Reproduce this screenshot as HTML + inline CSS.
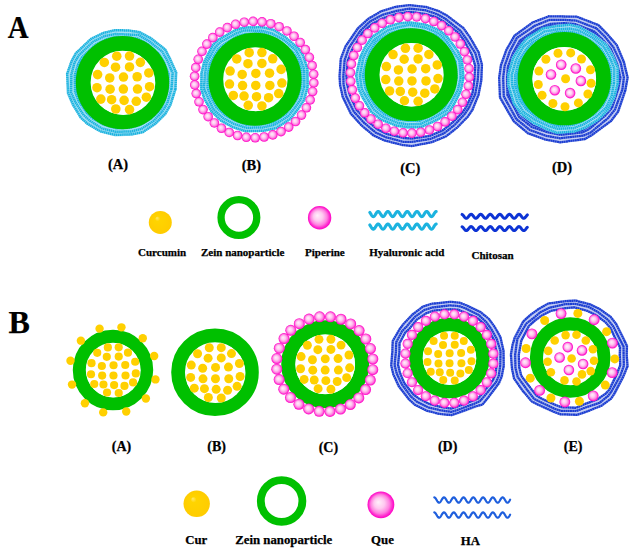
<!DOCTYPE html>
<html><head><meta charset="utf-8"><style>
html,body{margin:0;padding:0;background:#fff;width:639px;height:550px;overflow:hidden}
svg{display:block}
text{font-family:"Liberation Serif",serif;font-weight:bold;fill:#000;stroke:#000;stroke-width:0.25px}
</style></head><body>
<svg width="639" height="550" viewBox="0 0 639 550">
<defs>
<radialGradient id="pg" cx="0.5" cy="0.5" r="0.5" fx="0.4" fy="0.4">
<stop offset="0" stop-color="#fff0fa"/><stop offset="0.4" stop-color="#ffc8f0"/><stop offset="0.7" stop-color="#ff80e0"/><stop offset="0.87" stop-color="#ff30d0"/><stop offset="1" stop-color="#ff00c4"/>
</radialGradient>
<radialGradient id="pg2" cx="0.5" cy="0.5" r="0.5" fx="0.42" fy="0.42">
<stop offset="0" stop-color="#fff6fc"/><stop offset="0.4" stop-color="#ffd4f4"/><stop offset="0.68" stop-color="#ff90e4"/><stop offset="0.85" stop-color="#ff30d0"/><stop offset="1" stop-color="#ff00c4"/>
</radialGradient>
<radialGradient id="yg" cx="0.5" cy="0.5" r="0.5" fx="0.35" fy="0.3">
<stop offset="0" stop-color="#ffe870"/><stop offset="0.22" stop-color="#ffd400"/><stop offset="1" stop-color="#ffcc00"/>
</radialGradient>
</defs>
<path d="M171.1,88.61 L166.5,102.92 L161.99,111.41 L152.67,120.69 L141.15,127.88 L131.13,130.32 L115.78,130.99 L102.38,127.34 L90.07,120.41 L84.33,114.67 L76.64,102.77 L72.06,92.33 L71.71,74.56 L75.4,63.04 L79.63,55.76 L93.7,42.55 L105.22,37 L115.75,34.51 L128.43,34.89 L138.26,36.16 L148.92,41.77 L161.63,52.26 L166.36,60.68 L171.62,73.35Z" fill="none" stroke="#a4e0f4" stroke-opacity="1.0" stroke-width="11"/>
<path d="M175.41,89.15 L170.43,104.76 L165.17,113.77 L155.06,123.74 L142.91,132.12 L131.89,134.31 L115.31,134.85 L100.65,131.45 L87.41,123.69 L80.84,117.76 L72.99,104.45 L68.24,93.11 L67.14,73.81 L71.57,61.39 L75.83,53.28 L91.14,38.81 L103.75,32.83 L115.22,30.15 L129.03,30.52 L139.59,32.31 L151.03,38.51 L165.2,49.47 L169.85,58.93 L176.16,72.5Z" fill="none" stroke="#1cb3df" stroke-width="2.5" stroke-dasharray="1.5 0.45"/>
<path d="M171.5,88.66 L167.25,103.27 L162.29,111.63 L153.13,121.27 L141.53,128.79 L131.35,131.48 L115.69,131.76 L101.92,128.45 L89.85,120.68 L83.76,115.18 L75.92,103.1 L71.08,92.53 L71.38,74.5 L74.49,62.65 L78.86,55.26 L93.11,41.7 L104.86,35.98 L115.69,34.04 L128.48,34.57 L138.64,35.04 L149.23,41.29 L162.34,51.71 L167.1,60.31 L172.64,73.16Z" fill="none" stroke="#1cb3df" stroke-width="2.5" stroke-dasharray="1.5 0.45"/>
<path d="M168.07,88.22 L164.21,101.84 L160.08,110 L150.94,118.48 L139.95,124.99 L130.62,127.63 L116.12,128.17 L103.54,124.58 L92,118.04 L86.63,112.65 L78.98,101.68 L75.04,91.72 L74.81,75.06 L78.12,64.22 L81.92,57.25 L95.27,44.85 L106.06,39.37 L116.05,36.98 L128.08,37.51 L137.45,38.49 L147.51,43.94 L159.13,54.21 L163.88,61.94 L168.58,73.93Z" fill="none" stroke="#1cb3df" stroke-width="2.5" stroke-dasharray="1.5 0.45"/>
<path d="M166.36,88 L162.18,100.89 L158.15,108.57 L149.72,116.94 L139.32,123.47 L130.24,125.63 L116.35,126.25 L104.23,122.94 L93.08,116.71 L87.91,111.51 L80.97,100.76 L76.74,91.38 L76.42,75.33 L79.78,64.93 L83.63,58.37 L96.39,46.49 L106.81,41.5 L116.33,39.24 L127.79,39.62 L136.7,40.68 L146.32,45.78 L157.87,55.2 L162.1,62.83 L166.93,74.24Z" fill="none" stroke="#1cb3df" stroke-width="1.5"/>
<circle cx="122.5" cy="82.6" r="39.3" fill="none" stroke="#00c000" stroke-width="14.8"/>
<circle cx="123.4" cy="83" r="31.9" fill="#fff"/>
<circle cx="116.76" cy="56.2" r="4.78" fill="#ffd000"/>
<circle cx="129.52" cy="56.08" r="4.78" fill="#ffd000"/>
<circle cx="104.32" cy="62.49" r="4.78" fill="#ffd000"/>
<circle cx="115.52" cy="67.24" r="4.78" fill="#ffd000"/>
<circle cx="129.52" cy="66.95" r="4.78" fill="#ffd000"/>
<circle cx="140.37" cy="62.36" r="4.78" fill="#ffd000"/>
<circle cx="97.62" cy="74.61" r="4.78" fill="#ffd000"/>
<circle cx="109.75" cy="77.99" r="4.78" fill="#ffd000"/>
<circle cx="123.46" cy="77.07" r="4.78" fill="#ffd000"/>
<circle cx="137.18" cy="76.75" r="4.78" fill="#ffd000"/>
<circle cx="148.82" cy="72.95" r="4.78" fill="#ffd000"/>
<circle cx="97.02" cy="87.66" r="4.78" fill="#ffd000"/>
<circle cx="110.1" cy="89.22" r="4.78" fill="#ffd000"/>
<circle cx="123.37" cy="89.09" r="4.78" fill="#ffd000"/>
<circle cx="137.5" cy="89.09" r="4.78" fill="#ffd000"/>
<circle cx="149.56" cy="86.67" r="4.78" fill="#ffd000"/>
<circle cx="100.85" cy="99.11" r="4.78" fill="#ffd000"/>
<circle cx="111.63" cy="99.68" r="4.78" fill="#ffd000"/>
<circle cx="124.1" cy="100.39" r="4.78" fill="#ffd000"/>
<circle cx="136.26" cy="101.34" r="4.78" fill="#ffd000"/>
<circle cx="146.37" cy="97.16" r="4.78" fill="#ffd000"/>
<circle cx="115.81" cy="109" r="4.78" fill="#ffd000"/>
<circle cx="129.52" cy="109.6" r="4.78" fill="#ffd000"/>
<path d="M303.95,86.38 L299.81,98.58 L294.81,106.29 L287.78,116.02 L274.58,124.3 L262.47,126.67 L245.93,127.11 L234.47,123.34 L223.81,117.4 L214.59,108.89 L208.42,96.95 L205.09,88.31 L205.45,73.64 L207.76,63.16 L215.99,47.37 L221.42,42.78 L236.97,33.64 L244.45,31.31 L261.64,31.08 L271.8,33.83 L283.27,40.51 L295.1,50.99 L299.18,57 L303.58,69.45Z" fill="none" stroke="#a4e0f4" stroke-opacity="1.0" stroke-width="10.5"/>
<path d="M307.59,86.92 L303.9,100.36 L298.31,108.68 L290.31,118.84 L276.22,128 L263.18,130.82 L245.26,131.04 L232.82,127.11 L221.2,120.75 L211.44,111.3 L204.32,98.57 L201.32,89.02 L201.58,73.19 L204.27,61.94 L213.06,44.88 L218.61,39.6 L235.66,30.12 L243.72,27.68 L262.22,27.22 L273.33,29.82 L285.55,37.42 L298.44,48.64 L302.96,55.09 L307.27,68.7Z" fill="none" stroke="#1cb3df" stroke-width="2.5" stroke-dasharray="1.5 0.45"/>
<path d="M304.28,86.43 L300.82,99.02 L295.61,106.84 L288.05,116.32 L274.77,124.74 L262.62,127.51 L245.83,127.7 L234.21,123.95 L223.2,118.18 L213.64,109.61 L207.75,97.21 L203.94,88.53 L205.09,73.6 L206.66,62.78 L215.51,46.96 L220.69,41.96 L236.78,33.14 L244.28,30.46 L261.69,30.76 L271.95,33.45 L283.8,39.8 L295.97,50.38 L299.56,56.81 L304.19,69.32Z" fill="none" stroke="#1cb3df" stroke-width="2.5" stroke-dasharray="1.5 0.45"/>
<path d="M301.31,85.99 L297.69,97.66 L292.94,105.02 L285.88,113.89 L273.7,122.31 L262.09,124.41 L246.35,124.64 L235.57,120.83 L225.36,115.41 L216.42,107.49 L210.43,96.15 L207.54,87.85 L207.84,73.92 L209.75,63.87 L218.04,49.11 L223.21,44.81 L237.85,36.01 L245,34.06 L261.31,33.28 L270.91,36.19 L281.72,42.62 L293.05,52.43 L297.13,58.03 L301.37,69.89Z" fill="none" stroke="#1cb3df" stroke-width="2.5" stroke-dasharray="1.5 0.45"/>
<path d="M299.47,85.72 L295.66,96.78 L291.07,103.75 L284.77,112.64 L272.75,120.16 L261.71,122.21 L246.68,122.65 L236.29,119.2 L226.59,113.84 L218.18,106.14 L212.63,95.28 L209.54,87.47 L209.95,74.17 L212.02,64.67 L219.44,50.3 L224.41,46.17 L238.54,37.88 L245.33,35.75 L260.96,35.55 L270.2,38.06 L280.59,44.15 L291.4,53.59 L295.14,59.03 L299.14,70.34Z" fill="none" stroke="#1cb3df" stroke-width="1.5"/>
<circle cx="255" cy="79.2" r="39.15" fill="none" stroke="#00c000" stroke-width="14.7"/>
<circle cx="255.8" cy="79.4" r="31.8" fill="#fff"/>
<circle cx="249.19" cy="52.69" r="4.77" fill="#ffd000"/>
<circle cx="261.91" cy="52.56" r="4.77" fill="#ffd000"/>
<circle cx="236.78" cy="58.95" r="4.77" fill="#ffd000"/>
<circle cx="247.95" cy="63.69" r="4.77" fill="#ffd000"/>
<circle cx="261.91" cy="63.4" r="4.77" fill="#ffd000"/>
<circle cx="272.72" cy="58.83" r="4.77" fill="#ffd000"/>
<circle cx="230.11" cy="71.04" r="4.77" fill="#ffd000"/>
<circle cx="242.19" cy="74.41" r="4.77" fill="#ffd000"/>
<circle cx="255.86" cy="73.49" r="4.77" fill="#ffd000"/>
<circle cx="269.54" cy="73.17" r="4.77" fill="#ffd000"/>
<circle cx="281.14" cy="69.38" r="4.77" fill="#ffd000"/>
<circle cx="229.5" cy="84.04" r="4.77" fill="#ffd000"/>
<circle cx="242.54" cy="85.6" r="4.77" fill="#ffd000"/>
<circle cx="255.77" cy="85.47" r="4.77" fill="#ffd000"/>
<circle cx="269.86" cy="85.47" r="4.77" fill="#ffd000"/>
<circle cx="281.88" cy="83.06" r="4.77" fill="#ffd000"/>
<circle cx="233.32" cy="95.46" r="4.77" fill="#ffd000"/>
<circle cx="244.07" cy="96.03" r="4.77" fill="#ffd000"/>
<circle cx="256.5" cy="96.73" r="4.77" fill="#ffd000"/>
<circle cx="268.62" cy="97.69" r="4.77" fill="#ffd000"/>
<circle cx="278.7" cy="93.52" r="4.77" fill="#ffd000"/>
<circle cx="248.23" cy="105.32" r="4.77" fill="#ffd000"/>
<circle cx="261.91" cy="105.92" r="4.77" fill="#ffd000"/>
<circle cx="253.16" cy="21.41" r="4.8" fill="url(#pg)"/>
<circle cx="262.07" cy="21.91" r="4.8" fill="url(#pg)"/>
<circle cx="270.8" cy="23.69" r="4.8" fill="url(#pg)"/>
<circle cx="279.16" cy="26.73" r="4.8" fill="url(#pg)"/>
<circle cx="286.96" cy="30.95" r="4.8" fill="url(#pg)"/>
<circle cx="294.04" cy="36.25" r="4.8" fill="url(#pg)"/>
<circle cx="300.22" cy="42.52" r="4.8" fill="url(#pg)"/>
<circle cx="305.37" cy="49.62" r="4.8" fill="url(#pg)"/>
<circle cx="309.38" cy="57.39" r="4.8" fill="url(#pg)"/>
<circle cx="312.16" cy="65.66" r="4.8" fill="url(#pg)"/>
<circle cx="313.65" cy="74.24" r="4.8" fill="url(#pg)"/>
<circle cx="313.8" cy="82.94" r="4.8" fill="url(#pg)"/>
<circle cx="312.63" cy="91.56" r="4.8" fill="url(#pg)"/>
<circle cx="310.15" cy="99.91" r="4.8" fill="url(#pg)"/>
<circle cx="306.41" cy="107.82" r="4.8" fill="url(#pg)"/>
<circle cx="301.52" cy="115.09" r="4.8" fill="url(#pg)"/>
<circle cx="295.56" cy="121.57" r="4.8" fill="url(#pg)"/>
<circle cx="288.69" cy="127.11" r="4.8" fill="url(#pg)"/>
<circle cx="281.04" cy="131.59" r="4.8" fill="url(#pg)"/>
<circle cx="272.79" cy="134.91" r="4.8" fill="url(#pg)"/>
<circle cx="264.13" cy="136.99" r="4.8" fill="url(#pg)"/>
<circle cx="255.24" cy="137.79" r="4.8" fill="url(#pg)"/>
<circle cx="246.33" cy="137.29" r="4.8" fill="url(#pg)"/>
<circle cx="237.6" cy="135.51" r="4.8" fill="url(#pg)"/>
<circle cx="229.24" cy="132.47" r="4.8" fill="url(#pg)"/>
<circle cx="221.44" cy="128.25" r="4.8" fill="url(#pg)"/>
<circle cx="214.36" cy="122.95" r="4.8" fill="url(#pg)"/>
<circle cx="208.18" cy="116.68" r="4.8" fill="url(#pg)"/>
<circle cx="203.03" cy="109.58" r="4.8" fill="url(#pg)"/>
<circle cx="199.02" cy="101.81" r="4.8" fill="url(#pg)"/>
<circle cx="196.24" cy="93.54" r="4.8" fill="url(#pg)"/>
<circle cx="194.75" cy="84.96" r="4.8" fill="url(#pg)"/>
<circle cx="194.6" cy="76.26" r="4.8" fill="url(#pg)"/>
<circle cx="195.77" cy="67.64" r="4.8" fill="url(#pg)"/>
<circle cx="198.25" cy="59.29" r="4.8" fill="url(#pg)"/>
<circle cx="201.99" cy="51.38" r="4.8" fill="url(#pg)"/>
<circle cx="206.88" cy="44.11" r="4.8" fill="url(#pg)"/>
<circle cx="212.84" cy="37.63" r="4.8" fill="url(#pg)"/>
<circle cx="219.71" cy="32.09" r="4.8" fill="url(#pg)"/>
<circle cx="227.36" cy="27.61" r="4.8" fill="url(#pg)"/>
<circle cx="235.61" cy="24.29" r="4.8" fill="url(#pg)"/>
<circle cx="244.27" cy="22.21" r="4.8" fill="url(#pg)"/>
<path d="M478.09,80.31 L475.39,93.92 L469.28,108.11 L464.79,114.48 L454.7,124.7 L444.42,133.22 L430.6,139.04 L411.72,142.28 L403.19,141.44 L385.73,137.03 L375.5,132.47 L364.18,122.85 L353.58,111.81 L346.06,95.74 L343.75,84.21 L343.06,75.89 L344.37,59.67 L348.95,47.81 L360.13,30.47 L370.08,21.33 L382.46,14.6 L396.18,10.58 L409.39,8.51 L425.34,10.52 L437.37,14.37 L445.39,18.5 L460.74,30.55 L466.89,39.15 L475.01,53.43 L478.42,65.2Z" fill="none" stroke="#c4cdf2" stroke-opacity="1.0" stroke-width="9"/>
<path d="M481.22,80.57 L478.47,94.84 L472.42,109.91 L467.78,116.69 L457.2,127.57 L446.19,136.32 L431.58,142.23 L411.79,146.08 L402.79,145.12 L384.39,140.45 L373.66,135.54 L361.62,125.55 L350.86,113.61 L342.7,96.84 L340.01,84.74 L339.56,75.94 L340.76,58.82 L345.54,46.27 L357.87,28.43 L368.27,18.88 L380.98,11.33 L395.37,6.88 L409.34,5.07 L426.14,6.98 L438.79,11.09 L447.12,15.65 L463.45,28.11 L469.91,37.19 L478.59,52.21 L481.96,64.68Z" fill="none" stroke="#1c3ed2" stroke-width="2.3" stroke-dasharray="2 0.25"/>
<path d="M477.72,80.28 L475.31,93.9 L468.9,107.88 L464.5,114.26 L454.76,124.77 L444.35,133.08 L430.57,138.95 L411.72,141.92 L403.15,141.78 L385.68,137.17 L375.51,132.45 L364.16,122.87 L353.83,111.65 L345.98,95.76 L343.53,84.25 L343.34,75.89 L344.68,59.75 L348.94,47.81 L360.38,30.69 L370.13,21.4 L382.55,14.79 L396.27,10.98 L409.4,8.65 L425.41,10.25 L437.39,14.33 L445.26,18.72 L460.45,30.82 L466.59,39.34 L475.43,53.29 L478.65,65.17Z" fill="none" stroke="#1c3ed2" stroke-width="2.3" stroke-dasharray="2 0.25"/>
<path d="M474.33,80.01 L472.57,93.08 L466.54,106.53 L462.34,112.65 L452.7,122.4 L442.81,130.38 L429.66,135.97 L411.66,138.56 L403.56,138.01 L386.92,133.98 L377.34,129.37 L366.67,120.22 L356.52,109.87 L349.67,94.55 L347.06,83.75 L346.38,75.85 L347.82,60.49 L352.29,49.32 L362.44,32.55 L371.97,23.89 L383.92,17.8 L396.89,13.86 L409.45,11.82 L424.6,13.82 L436.21,17.05 L443.61,21.45 L458.37,32.7 L464.24,40.87 L471.76,54.54 L475.24,65.67Z" fill="none" stroke="#1c3ed2" stroke-width="2.3" stroke-dasharray="2 0.25"/>
<path d="M459.5,77.48 L456.87,89.47 L450.43,102.53 L445.89,109.52 L435.2,116.66 L420.25,123.14 L407.72,123.3 L397.3,121.93 L382.84,115.99 L374.47,108.9 L366.17,95.99 L362.51,88.58 L360.41,75.27 L363.95,58.39 L367.93,50.35 L374.56,40.14 L388.48,30.95 L399.69,27.6 L409.16,26.13 L424.6,28.56 L437.38,33.52 L444.61,39.67 L453.83,52.76 L458.21,60.86Z" fill="none" stroke="#a4e0f4" stroke-opacity="1.0" stroke-width="10.5"/>
<path d="M463.39,77.69 L460.71,90.71 L453.64,104.79 L448.94,112.55 L437.01,119.75 L421.04,127.04 L407.52,127.26 L396.34,125.51 L380.62,119.4 L371.4,111.88 L362.94,97.58 L359.02,89.61 L356.22,75.32 L360.51,57.15 L364.46,48.3 L371.72,37.32 L386.64,27.18 L398.77,23.4 L409.09,22.52 L425.79,24.68 L439.44,30.33 L447.11,37.08 L457.53,50.85 L461.71,59.83Z" fill="none" stroke="#1cb3df" stroke-width="2.5" stroke-dasharray="1.5 0.45"/>
<path d="M460.68,77.54 L457.9,89.8 L451.06,102.97 L446.66,110.28 L435.37,116.96 L420.42,123.98 L407.67,124.41 L397.11,122.64 L382.41,116.66 L373.9,109.44 L365.84,96.16 L361.73,88.81 L359.9,75.28 L363.27,58.15 L367.17,49.9 L374.09,39.67 L388.13,30.23 L399.52,26.83 L409.14,24.99 L424.93,27.47 L437.88,32.74 L445.1,39.16 L454.15,52.59 L459.35,60.53Z" fill="none" stroke="#1cb3df" stroke-width="2.5" stroke-dasharray="1.5 0.45"/>
<path d="M456.88,77.33 L454.71,88.78 L448.18,100.95 L444.31,107.96 L433.81,114.29 L419.77,120.81 L407.85,120.66 L397.94,119.56 L384.08,114.09 L376.18,107.23 L368.47,94.86 L365.32,87.75 L362.9,75.25 L366.73,59.4 L369.84,51.47 L376.04,41.6 L389.58,33.22 L400.22,30.04 L409.22,28.92 L423.91,30.82 L436.25,35.27 L443.05,41.29 L451.58,53.91 L455.68,61.61Z" fill="none" stroke="#1cb3df" stroke-width="2.5" stroke-dasharray="1.5 0.45"/>
<path d="M454.98,77.22 L452.56,88.09 L446.73,99.93 L442.68,106.33 L432.91,112.75 L419.34,118.71 L407.95,118.78 L398.47,117.56 L385.31,112.2 L377.71,105.74 L370.23,94 L366.85,87.3 L364.94,75.22 L368.21,59.93 L371.83,52.64 L377.78,43.32 L390.46,35.02 L400.65,32.01 L409.26,30.65 L423.27,32.88 L434.92,37.31 L441.47,42.93 L449.81,54.82 L453.87,62.14Z" fill="none" stroke="#1cb3df" stroke-width="1.5"/>
<circle cx="411.2" cy="74.7" r="39.05" fill="none" stroke="#00c000" stroke-width="14.7"/>
<circle cx="412" cy="74.9" r="31.7" fill="#fff"/>
<circle cx="405.41" cy="48.27" r="4.75" fill="#ffd000"/>
<circle cx="418.09" cy="48.15" r="4.75" fill="#ffd000"/>
<circle cx="393.04" cy="54.52" r="4.75" fill="#ffd000"/>
<circle cx="404.17" cy="59.24" r="4.75" fill="#ffd000"/>
<circle cx="418.09" cy="58.95" r="4.75" fill="#ffd000"/>
<circle cx="428.86" cy="54.39" r="4.75" fill="#ffd000"/>
<circle cx="386.39" cy="66.56" r="4.75" fill="#ffd000"/>
<circle cx="398.43" cy="69.92" r="4.75" fill="#ffd000"/>
<circle cx="412.06" cy="69" r="4.75" fill="#ffd000"/>
<circle cx="425.69" cy="68.69" r="4.75" fill="#ffd000"/>
<circle cx="437.26" cy="64.91" r="4.75" fill="#ffd000"/>
<circle cx="385.78" cy="79.53" r="4.75" fill="#ffd000"/>
<circle cx="398.78" cy="81.08" r="4.75" fill="#ffd000"/>
<circle cx="411.97" cy="80.95" r="4.75" fill="#ffd000"/>
<circle cx="426.01" cy="80.95" r="4.75" fill="#ffd000"/>
<circle cx="437.99" cy="78.55" r="4.75" fill="#ffd000"/>
<circle cx="389.59" cy="90.91" r="4.75" fill="#ffd000"/>
<circle cx="400.3" cy="91.48" r="4.75" fill="#ffd000"/>
<circle cx="412.7" cy="92.18" r="4.75" fill="#ffd000"/>
<circle cx="424.78" cy="93.13" r="4.75" fill="#ffd000"/>
<circle cx="434.82" cy="88.97" r="4.75" fill="#ffd000"/>
<circle cx="404.46" cy="100.74" r="4.75" fill="#ffd000"/>
<circle cx="418.09" cy="101.34" r="4.75" fill="#ffd000"/>
<circle cx="407.82" cy="16.64" r="4.8" fill="url(#pg)"/>
<circle cx="416.71" cy="16.98" r="4.8" fill="url(#pg)"/>
<circle cx="425.44" cy="18.62" r="4.8" fill="url(#pg)"/>
<circle cx="433.83" cy="21.52" r="4.8" fill="url(#pg)"/>
<circle cx="441.68" cy="25.61" r="4.8" fill="url(#pg)"/>
<circle cx="448.82" cy="30.81" r="4.8" fill="url(#pg)"/>
<circle cx="455.1" cy="36.98" r="4.8" fill="url(#pg)"/>
<circle cx="460.36" cy="44.01" r="4.8" fill="url(#pg)"/>
<circle cx="464.49" cy="51.72" r="4.8" fill="url(#pg)"/>
<circle cx="467.41" cy="59.95" r="4.8" fill="url(#pg)"/>
<circle cx="469.04" cy="68.52" r="4.8" fill="url(#pg)"/>
<circle cx="469.35" cy="77.23" r="4.8" fill="url(#pg)"/>
<circle cx="468.33" cy="85.88" r="4.8" fill="url(#pg)"/>
<circle cx="466.01" cy="94.29" r="4.8" fill="url(#pg)"/>
<circle cx="462.44" cy="102.27" r="4.8" fill="url(#pg)"/>
<circle cx="457.69" cy="109.64" r="4.8" fill="url(#pg)"/>
<circle cx="451.87" cy="116.23" r="4.8" fill="url(#pg)"/>
<circle cx="445.11" cy="121.89" r="4.8" fill="url(#pg)"/>
<circle cx="437.57" cy="126.51" r="4.8" fill="url(#pg)"/>
<circle cx="429.41" cy="129.98" r="4.8" fill="url(#pg)"/>
<circle cx="420.82" cy="132.21" r="4.8" fill="url(#pg)"/>
<circle cx="411.98" cy="133.16" r="4.8" fill="url(#pg)"/>
<circle cx="403.09" cy="132.82" r="4.8" fill="url(#pg)"/>
<circle cx="394.36" cy="131.18" r="4.8" fill="url(#pg)"/>
<circle cx="385.97" cy="128.28" r="4.8" fill="url(#pg)"/>
<circle cx="378.12" cy="124.19" r="4.8" fill="url(#pg)"/>
<circle cx="370.98" cy="118.99" r="4.8" fill="url(#pg)"/>
<circle cx="364.7" cy="112.82" r="4.8" fill="url(#pg)"/>
<circle cx="359.44" cy="105.79" r="4.8" fill="url(#pg)"/>
<circle cx="355.31" cy="98.08" r="4.8" fill="url(#pg)"/>
<circle cx="352.39" cy="89.85" r="4.8" fill="url(#pg)"/>
<circle cx="350.76" cy="81.28" r="4.8" fill="url(#pg)"/>
<circle cx="350.45" cy="72.57" r="4.8" fill="url(#pg)"/>
<circle cx="351.47" cy="63.92" r="4.8" fill="url(#pg)"/>
<circle cx="353.79" cy="55.51" r="4.8" fill="url(#pg)"/>
<circle cx="357.36" cy="47.53" r="4.8" fill="url(#pg)"/>
<circle cx="362.11" cy="40.16" r="4.8" fill="url(#pg)"/>
<circle cx="367.93" cy="33.57" r="4.8" fill="url(#pg)"/>
<circle cx="374.69" cy="27.91" r="4.8" fill="url(#pg)"/>
<circle cx="382.23" cy="23.29" r="4.8" fill="url(#pg)"/>
<circle cx="390.39" cy="19.82" r="4.8" fill="url(#pg)"/>
<circle cx="398.98" cy="17.59" r="4.8" fill="url(#pg)"/>
<path d="M621.27,89.42 L614.53,109.48 L607.69,117.74 L590.06,131.5 L583.3,135.16 L560.34,137.86 L546.53,135.14 L530.37,129.16 L517.11,118.5 L512.3,110.47 L504.43,96.09 L503.86,77.65 L505.04,66.02 L510.28,51.91 L517.76,38.57 L534.86,26.35 L549.84,20.93 L564.94,20.5 L575.79,21.35 L596.15,28.7 L604.63,37.54 L612.97,47.52 L619.95,62.99 L623.13,77.61Z" fill="none" stroke="#c4cdf2" stroke-opacity="1.0" stroke-width="11"/>
<path d="M625.3,90.17 L618.05,111.63 L611.18,120.85 L591.82,135.03 L584.67,139.05 L560.15,142.28 L545.28,139.53 L527.8,133.21 L513.91,121.34 L508.74,112.74 L499.96,97.45 L499.17,77.55 L501,65.11 L506.39,49.87 L514.57,35.67 L532.77,22.37 L548.8,16.27 L565.07,16.53 L576.8,16.68 L598.46,25.12 L607.59,34.54 L616.78,45.08 L623.77,61.9 L627.62,77.52Z" fill="none" stroke="#1c3ed2" stroke-width="2.3" stroke-dasharray="2 0.25"/>
<path d="M622.37,89.62 L614.88,109.7 L608.05,118.06 L590.59,132.56 L583.44,135.57 L560.33,138.29 L546.32,135.88 L529.83,130 L516.4,119.13 L511.78,110.81 L503.79,96.29 L503.16,77.63 L504.64,65.93 L509.69,51.6 L516.96,37.85 L534.6,25.85 L549.6,19.84 L564.96,19.94 L575.96,20.55 L596.38,28.34 L605.18,36.99 L613.4,47.24 L620.64,62.79 L623.87,77.59Z" fill="none" stroke="#1c3ed2" stroke-width="2.3" stroke-dasharray="2 0.25"/>
<path d="M618.24,88.85 L612.01,107.94 L605.24,115.55 L588.92,129.24 L582.36,132.5 L560.48,134.83 L547.38,132.18 L531.73,127.01 L518.99,116.83 L514.95,108.77 L507.46,95.18 L507.08,77.71 L507.92,66.67 L512.94,53.3 L519.92,40.54 L536.37,29.24 L550.49,23.85 L564.85,23.1 L575.19,24.1 L594.36,31.46 L602.65,39.55 L610.73,48.96 L617.14,63.79 L620.44,77.66Z" fill="none" stroke="#1c3ed2" stroke-width="2.3" stroke-dasharray="2 0.25"/>
<path d="M616.58,88.54 L610.45,107 L604.13,114.56 L587.92,127.23 L581.71,130.66 L560.55,133.09 L547.84,130.55 L532.92,125.12 L520.68,115.34 L516.32,107.9 L509,94.71 L508.64,77.74 L509.7,67.08 L514.51,54.12 L521.29,41.79 L537.07,30.58 L550.87,25.59 L564.78,25.27 L574.77,26.02 L593.55,32.71 L601.28,40.94 L608.95,50.09 L615.36,64.29 L618.35,77.71Z" fill="none" stroke="#1c3ed2" stroke-width="1.5"/>
<path d="M613.43,83.03 L610.6,95.15 L605.07,107.18 L595.86,116.17 L583.23,123.95 L573.36,127.3 L557.39,128.41 L548.88,125.78 L535.32,119.17 L524.37,111.41 L517.78,101.57 L512.54,85.14 L512.58,75.12 L516.77,59.47 L524.21,47.54 L529.75,41.58 L544.69,32.38 L556.99,29.88 L569.2,28.96 L577.81,30.67 L591.95,38.46 L603.23,47.28 L608.69,56.6 L613.41,68.25Z" fill="none" stroke="#a4e0f4" stroke-opacity="1.0" stroke-width="10.5"/>
<path d="M617.64,83.42 L614.35,96.5 L608.08,109.29 L598.63,119.44 L584.87,127.76 L574.2,131.48 L556.89,132.79 L547.82,129.36 L533.03,122.59 L521.52,113.88 L513.95,103.57 L508.54,85.67 L508.2,74.82 L513.21,57.98 L521.14,45.05 L526.97,38.45 L543.11,28.35 L556.53,26.14 L569.7,24.74 L578.91,27 L594.09,35.41 L606.17,44.93 L612.02,54.96 L617.61,67.38Z" fill="none" stroke="#1cb3df" stroke-width="2.5" stroke-dasharray="1.5 0.45"/>
<path d="M613.97,83.08 L611.7,95.55 L605.93,107.78 L596.25,116.63 L583.45,124.47 L573.53,128.17 L557.34,128.79 L548.77,126.13 L534.9,119.8 L523.65,112.03 L517.26,101.85 L512.14,85.19 L511.63,75.06 L516.26,59.25 L523.38,46.87 L529.52,41.33 L544.37,31.55 L556.94,29.42 L569.24,28.62 L577.99,30.06 L592.48,37.71 L603.83,46.8 L609.16,56.37 L614.24,68.08Z" fill="none" stroke="#1cb3df" stroke-width="2.5" stroke-dasharray="1.5 0.45"/>
<path d="M610.91,82.8 L608.33,94.34 L602.83,105.61 L594.16,114.16 L582.19,121.55 L572.87,124.93 L557.63,126.31 L549.65,123.17 L536.55,117.33 L526.52,109.55 L519.92,100.46 L514.99,84.81 L515.13,75.29 L519.11,60.45 L526.26,49.2 L531.25,43.28 L545.72,35 L557.26,32 L568.9,31.54 L577.11,33.03 L590.53,40.48 L601.07,49 L606.22,57.81 L611,68.76Z" fill="none" stroke="#1cb3df" stroke-width="2.5" stroke-dasharray="1.5 0.45"/>
<path d="M608.93,82.61 L606.35,93.63 L601.36,104.59 L592.94,112.72 L581.44,119.8 L572.45,122.87 L557.9,123.91 L550.16,121.45 L537.84,115.41 L527.79,108.45 L521.8,99.49 L517.02,84.54 L517.09,75.43 L520.95,61.22 L527.72,50.39 L532.75,44.97 L546.35,36.59 L557.55,34.37 L568.67,33.46 L576.52,35 L589.35,42.17 L599.69,50.1 L604.63,58.6 L608.99,69.18Z" fill="none" stroke="#1cb3df" stroke-width="1.5"/>
<circle cx="564.3" cy="78.7" r="39.2" fill="none" stroke="#00c000" stroke-width="14.8"/>
<circle cx="564.2" cy="79" r="31.8" fill="#fff"/>
<circle cx="558" cy="53.3" r="4.5" fill="#ffd000"/>
<circle cx="570.7" cy="52.9" r="4.5" fill="#ffd000"/>
<circle cx="545.9" cy="59.3" r="4.5" fill="#ffd000"/>
<circle cx="581.5" cy="59" r="4.5" fill="#ffd000"/>
<circle cx="538.9" cy="71.1" r="4.5" fill="#ffd000"/>
<circle cx="590.5" cy="69.8" r="4.5" fill="#ffd000"/>
<circle cx="538.3" cy="84.5" r="4.5" fill="#ffd000"/>
<circle cx="591.1" cy="83.2" r="4.5" fill="#ffd000"/>
<circle cx="542.1" cy="95.3" r="4.5" fill="#ffd000"/>
<circle cx="587.9" cy="94" r="4.5" fill="#ffd000"/>
<circle cx="552.9" cy="103.5" r="4.5" fill="#ffd000"/>
<circle cx="565" cy="106.7" r="4.5" fill="#ffd000"/>
<circle cx="578.4" cy="102.9" r="4.5" fill="#ffd000"/>
<circle cx="565.6" cy="78.7" r="4.5" fill="#ffd000"/>
<circle cx="561.2" cy="64.7" r="5.3" fill="url(#pg2)"/>
<circle cx="575.8" cy="68.5" r="5.3" fill="url(#pg2)"/>
<circle cx="551" cy="74.5" r="5.3" fill="url(#pg2)"/>
<circle cx="580.9" cy="80.9" r="5.3" fill="url(#pg2)"/>
<circle cx="554.8" cy="90.2" r="5.3" fill="url(#pg2)"/>
<circle cx="570.1" cy="93.1" r="5.3" fill="url(#pg2)"/>
<text x="118" y="168.8" font-size="14.5" text-anchor="middle">(A)</text>
<text x="251.3" y="170" font-size="14.5" text-anchor="middle">(B)</text>
<text x="410.2" y="173.1" font-size="14.5" text-anchor="middle">(C)</text>
<text x="562.1" y="171.5" font-size="14.5" text-anchor="middle">(D)</text>
<text x="18.2" y="38" font-size="32" text-anchor="middle" transform="translate(18.2 0) scale(0.9 1) translate(-18.2 0)">A</text>
<text x="19.2" y="333.2" font-size="32" text-anchor="middle">B</text>
<circle cx="160.3" cy="222.4" r="11.5" fill="url(#yg)"/>
<circle cx="238.9" cy="217.5" r="17.85" fill="none" stroke="#00c000" stroke-width="7.3"/>
<circle cx="319.6" cy="217.7" r="11.7" fill="url(#pg)"/>
<path d="M369.8,212.41 L370.05,212.75 L370.3,213.12 L370.55,213.52 L370.8,213.93 L371.05,214.34 L371.3,214.75 L371.55,215.14 L371.8,215.49 L372.06,215.81 L372.31,216.09 L372.56,216.31 L372.81,216.47 L373.06,216.57 L373.31,216.6 L373.56,216.56 L373.81,216.46 L374.06,216.3 L374.31,216.07 L374.56,215.8 L374.81,215.47 L375.06,215.11 L375.31,214.72 L375.56,214.32 L375.81,213.9 L376.06,213.49 L376.31,213.1 L376.57,212.73 L376.82,212.39 L377.07,212.1 L377.32,211.86 L377.57,211.68 L377.82,211.56 L378.07,211.5 L378.32,211.52 L378.57,211.59 L378.82,211.74 L379.07,211.94 L379.32,212.2 L379.57,212.51 L379.82,212.86 L380.07,213.24 L380.32,213.64 L380.57,214.05 L380.82,214.46 L381.08,214.86 L381.33,215.24 L381.58,215.59 L381.83,215.9 L382.08,216.16 L382.33,216.36 L382.58,216.51 L382.83,216.58 L383.08,216.6 L383.33,216.54 L383.58,216.42 L383.83,216.24 L384.08,216 L384.33,215.71 L384.58,215.37 L384.83,215 L385.08,214.61 L385.34,214.2 L385.59,213.79 L385.84,213.38 L386.09,212.99 L386.34,212.63 L386.59,212.31 L386.84,212.03 L387.09,211.8 L387.34,211.64 L387.59,211.54 L387.84,211.5 L388.09,211.53 L388.34,211.63 L388.59,211.79 L388.84,212.01 L389.09,212.28 L389.34,212.6 L389.59,212.96 L389.85,213.35 L390.1,213.75 L390.35,214.17 L390.6,214.58 L390.85,214.97 L391.1,215.35 L391.35,215.68 L391.6,215.98 L391.85,216.22 L392.1,216.41 L392.35,216.54 L392.6,216.59 L392.85,216.59 L393.1,216.51 L393.35,216.38 L393.6,216.18 L393.85,215.92 L394.1,215.61 L394.36,215.27 L394.61,214.89 L394.86,214.49 L395.11,214.08 L395.36,213.67 L395.61,213.26 L395.86,212.88 L396.11,212.53 L396.36,212.22 L396.61,211.96 L396.86,211.75 L397.11,211.6 L397.36,211.52 L397.61,211.5 L397.86,211.55 L398.11,211.67 L398.36,211.85 L398.62,212.08 L398.87,212.37 L399.12,212.7 L399.37,213.07 L399.62,213.46 L399.87,213.87 L400.12,214.29 L400.37,214.69 L400.62,215.08 L400.87,215.45 L401.12,215.77 L401.37,216.05 L401.62,216.28 L401.87,216.45 L402.12,216.56 L402.37,216.6 L402.62,216.57 L402.87,216.48 L403.13,216.32 L403.38,216.11 L403.63,215.84 L403.88,215.52 L404.13,215.16 L404.38,214.78 L404.63,214.37 L404.88,213.96 L405.13,213.55 L405.38,213.15 L405.63,212.78 L405.88,212.44 L406.13,212.14 L406.38,211.89 L406.63,211.7 L406.88,211.57 L407.13,211.51 L407.38,211.51 L407.64,211.58 L407.89,211.71 L408.14,211.91 L408.39,212.16 L408.64,212.46 L408.89,212.81 L409.14,213.18 L409.39,213.58 L409.64,213.99 L409.89,214.4 L410.14,214.81 L410.39,215.19 L410.64,215.55 L410.89,215.86 L411.14,216.13 L411.39,216.34 L411.64,216.49 L411.9,216.58 L412.15,216.6 L412.4,216.55 L412.65,216.44 L412.9,216.27 L413.15,216.03 L413.4,215.75 L413.65,215.42 L413.9,215.05 L414.15,214.66 L414.4,214.26 L414.65,213.84 L414.9,213.43 L415.15,213.04 L415.4,212.68 L415.65,212.35 L415.9,212.06 L416.15,211.83 L416.41,211.66 L416.66,211.55 L416.91,211.5 L417.16,211.52 L417.41,211.61 L417.66,211.76 L417.91,211.98 L418.16,212.24 L418.41,212.56 L418.66,212.91 L418.91,213.29 L419.16,213.7 L419.41,214.11 L419.66,214.52 L419.91,214.92 L420.16,215.3 L420.41,215.64 L420.66,215.94 L420.92,216.19 L421.17,216.39 L421.42,216.52 L421.67,216.59 L421.92,216.59 L422.17,216.53 L422.42,216.4 L422.67,216.21 L422.92,215.96 L423.17,215.66 L423.42,215.32 L423.67,214.94 L423.92,214.55 L424.17,214.14 L424.42,213.72 L424.67,213.32 L424.92,212.93 L425.18,212.58 L425.43,212.26 L425.68,211.99 L425.93,211.77 L426.18,211.62 L426.43,211.53 L426.68,211.5 L426.93,211.54 L427.18,211.65 L427.43,211.82 L427.68,212.05 L427.93,212.33 L428.18,212.66 L428.43,213.02 L428.68,213.41 L428.93,213.82 L429.18,214.23 L429.43,214.64 L429.69,215.03 L429.94,215.4 L430.19,215.73 L430.44,216.02 L430.69,216.25 L430.94,216.43 L431.19,216.55 L431.44,216.6 L431.69,216.58 L431.94,216.5 L432.19,216.35 L432.44,216.14 L432.69,215.88 L432.94,215.57 L433.19,215.21 L433.44,214.83 L433.69,214.43 L433.94,214.02 L434.2,213.61 L434.45,213.21 L434.7,212.83 L434.95,212.48 L435.2,212.18 L435.45,211.92 L435.7,211.72 L435.95,211.59 L436.2,211.51" fill="none" stroke="#1cb3df" stroke-width="3.1" stroke-linecap="round" stroke-linejoin="round"/>
<path d="M369.8,224.96 L370.05,225.3 L370.3,225.67 L370.55,226.07 L370.8,226.48 L371.05,226.89 L371.3,227.3 L371.55,227.69 L371.8,228.04 L372.06,228.36 L372.31,228.64 L372.56,228.86 L372.81,229.02 L373.06,229.12 L373.31,229.15 L373.56,229.11 L373.81,229.01 L374.06,228.85 L374.31,228.62 L374.56,228.35 L374.81,228.02 L375.06,227.66 L375.31,227.27 L375.56,226.87 L375.81,226.45 L376.06,226.04 L376.31,225.65 L376.57,225.28 L376.82,224.94 L377.07,224.65 L377.32,224.41 L377.57,224.23 L377.82,224.11 L378.07,224.05 L378.32,224.07 L378.57,224.14 L378.82,224.29 L379.07,224.49 L379.32,224.75 L379.57,225.06 L379.82,225.41 L380.07,225.79 L380.32,226.19 L380.57,226.6 L380.82,227.01 L381.08,227.41 L381.33,227.79 L381.58,228.14 L381.83,228.45 L382.08,228.71 L382.33,228.91 L382.58,229.06 L382.83,229.13 L383.08,229.15 L383.33,229.09 L383.58,228.97 L383.83,228.79 L384.08,228.55 L384.33,228.26 L384.58,227.92 L384.83,227.55 L385.08,227.16 L385.34,226.75 L385.59,226.34 L385.84,225.93 L386.09,225.54 L386.34,225.18 L386.59,224.86 L386.84,224.58 L387.09,224.35 L387.34,224.19 L387.59,224.09 L387.84,224.05 L388.09,224.08 L388.34,224.18 L388.59,224.34 L388.84,224.56 L389.09,224.83 L389.34,225.15 L389.59,225.51 L389.85,225.9 L390.1,226.3 L390.35,226.72 L390.6,227.13 L390.85,227.52 L391.1,227.9 L391.35,228.23 L391.6,228.53 L391.85,228.77 L392.1,228.96 L392.35,229.09 L392.6,229.14 L392.85,229.14 L393.1,229.06 L393.35,228.93 L393.6,228.73 L393.85,228.47 L394.1,228.16 L394.36,227.82 L394.61,227.44 L394.86,227.04 L395.11,226.63 L395.36,226.22 L395.61,225.81 L395.86,225.43 L396.11,225.08 L396.36,224.77 L396.61,224.51 L396.86,224.3 L397.11,224.15 L397.36,224.07 L397.61,224.05 L397.86,224.1 L398.11,224.22 L398.36,224.4 L398.62,224.63 L398.87,224.92 L399.12,225.25 L399.37,225.62 L399.62,226.01 L399.87,226.42 L400.12,226.84 L400.37,227.24 L400.62,227.63 L400.87,228 L401.12,228.32 L401.37,228.6 L401.62,228.83 L401.87,229 L402.12,229.11 L402.37,229.15 L402.62,229.12 L402.87,229.03 L403.13,228.87 L403.38,228.66 L403.63,228.39 L403.88,228.07 L404.13,227.71 L404.38,227.33 L404.63,226.92 L404.88,226.51 L405.13,226.1 L405.38,225.7 L405.63,225.33 L405.88,224.99 L406.13,224.69 L406.38,224.44 L406.63,224.25 L406.88,224.12 L407.13,224.06 L407.38,224.06 L407.64,224.13 L407.89,224.26 L408.14,224.46 L408.39,224.71 L408.64,225.01 L408.89,225.36 L409.14,225.73 L409.39,226.13 L409.64,226.54 L409.89,226.95 L410.14,227.36 L410.39,227.74 L410.64,228.1 L410.89,228.41 L411.14,228.68 L411.39,228.89 L411.64,229.04 L411.9,229.13 L412.15,229.15 L412.4,229.1 L412.65,228.99 L412.9,228.82 L413.15,228.58 L413.4,228.3 L413.65,227.97 L413.9,227.6 L414.15,227.21 L414.4,226.81 L414.65,226.39 L414.9,225.98 L415.15,225.59 L415.4,225.23 L415.65,224.9 L415.9,224.61 L416.15,224.38 L416.41,224.21 L416.66,224.1 L416.91,224.05 L417.16,224.07 L417.41,224.16 L417.66,224.31 L417.91,224.53 L418.16,224.79 L418.41,225.11 L418.66,225.46 L418.91,225.84 L419.16,226.25 L419.41,226.66 L419.66,227.07 L419.91,227.47 L420.16,227.85 L420.41,228.19 L420.66,228.49 L420.92,228.74 L421.17,228.94 L421.42,229.07 L421.67,229.14 L421.92,229.14 L422.17,229.08 L422.42,228.95 L422.67,228.76 L422.92,228.51 L423.17,228.21 L423.42,227.87 L423.67,227.49 L423.92,227.1 L424.17,226.69 L424.42,226.27 L424.67,225.87 L424.92,225.48 L425.18,225.13 L425.43,224.81 L425.68,224.54 L425.93,224.32 L426.18,224.17 L426.43,224.08 L426.68,224.05 L426.93,224.09 L427.18,224.2 L427.43,224.37 L427.68,224.6 L427.93,224.88 L428.18,225.21 L428.43,225.57 L428.68,225.96 L428.93,226.37 L429.18,226.78 L429.43,227.19 L429.69,227.58 L429.94,227.95 L430.19,228.28 L430.44,228.57 L430.69,228.8 L430.94,228.98 L431.19,229.1 L431.44,229.15 L431.69,229.13 L431.94,229.05 L432.19,228.9 L432.44,228.69 L432.69,228.43 L432.94,228.12 L433.19,227.76 L433.44,227.38 L433.69,226.98 L433.94,226.57 L434.2,226.16 L434.45,225.76 L434.7,225.38 L434.95,225.03 L435.2,224.73 L435.45,224.47 L435.7,224.27 L435.95,224.14 L436.2,224.06" fill="none" stroke="#1cb3df" stroke-width="3.1" stroke-linecap="round" stroke-linejoin="round"/>
<path d="M462.1,214.45 L462.35,214.6 L462.6,214.79 L462.85,215.03 L463.1,215.3 L463.35,215.59 L463.6,215.91 L463.86,216.23 L464.11,216.56 L464.36,216.88 L464.61,217.19 L464.86,217.47 L465.11,217.72 L465.36,217.93 L465.61,218.1 L465.86,218.22 L466.11,218.28 L466.36,218.3 L466.61,218.26 L466.86,218.16 L467.12,218.02 L467.37,217.83 L467.62,217.6 L467.87,217.33 L468.12,217.04 L468.37,216.72 L468.62,216.4 L468.87,216.07 L469.12,215.75 L469.37,215.44 L469.62,215.16 L469.87,214.9 L470.12,214.69 L470.38,214.52 L470.63,214.39 L470.88,214.32 L471.13,214.3 L471.38,214.34 L471.63,214.42 L471.88,214.56 L472.13,214.75 L472.38,214.98 L472.63,215.24 L472.88,215.53 L473.13,215.84 L473.38,216.17 L473.64,216.5 L473.89,216.82 L474.14,217.13 L474.39,217.42 L474.64,217.67 L474.89,217.89 L475.14,218.07 L475.39,218.2 L475.64,218.28 L475.89,218.3 L476.14,218.27 L476.39,218.19 L476.64,218.05 L476.9,217.87 L477.15,217.65 L477.4,217.39 L477.65,217.1 L477.9,216.79 L478.15,216.46 L478.4,216.14 L478.65,215.81 L478.9,215.5 L479.15,215.21 L479.4,214.95 L479.65,214.73 L479.9,214.55 L480.16,214.41 L480.41,214.33 L480.66,214.3 L480.91,214.32 L481.16,214.4 L481.41,214.53 L481.66,214.71 L481.91,214.93 L482.16,215.18 L482.41,215.47 L482.66,215.78 L482.91,216.1 L483.16,216.43 L483.42,216.76 L483.67,217.07 L483.92,217.36 L484.17,217.62 L484.42,217.85 L484.67,218.04 L484.92,218.18 L485.17,218.26 L485.42,218.3 L485.67,218.28 L485.92,218.21 L486.17,218.08 L486.42,217.91 L486.68,217.7 L486.93,217.44 L487.18,217.16 L487.43,216.85 L487.68,216.53 L487.93,216.2 L488.18,215.88 L488.43,215.56 L488.68,215.27 L488.93,215 L489.18,214.77 L489.43,214.58 L489.68,214.44 L489.94,214.34 L490.19,214.3 L490.44,214.32 L490.69,214.38 L490.94,214.5 L491.19,214.67 L491.44,214.88 L491.69,215.13 L491.94,215.41 L492.19,215.71 L492.44,216.04 L492.69,216.36 L492.94,216.69 L493.2,217.01 L493.45,217.3 L493.7,217.57 L493.95,217.81 L494.2,218 L494.45,218.15 L494.7,218.25 L494.95,218.3 L495.2,218.29 L495.45,218.23 L495.7,218.11 L495.95,217.95 L496.2,217.74 L496.46,217.5 L496.71,217.22 L496.96,216.92 L497.21,216.6 L497.46,216.27 L497.71,215.94 L497.96,215.62 L498.21,215.33 L498.46,215.05 L498.71,214.81 L498.96,214.61 L499.21,214.46 L499.46,214.36 L499.72,214.31 L499.97,214.31 L500.22,214.36 L500.47,214.47 L500.72,214.63 L500.97,214.83 L501.22,215.08 L501.47,215.35 L501.72,215.65 L501.97,215.97 L502.22,216.3 L502.47,216.62 L502.72,216.94 L502.98,217.25 L503.23,217.52 L503.48,217.76 L503.73,217.97 L503.98,218.13 L504.23,218.23 L504.48,218.29 L504.73,218.29 L504.98,218.24 L505.23,218.14 L505.48,217.99 L505.73,217.79 L505.98,217.55 L506.24,217.28 L506.49,216.98 L506.74,216.66 L506.99,216.34 L507.24,216.01 L507.49,215.69 L507.74,215.38 L507.99,215.11 L508.24,214.86 L508.49,214.65 L508.74,214.49 L508.99,214.37 L509.24,214.31 L509.5,214.3 L509.75,214.35 L510,214.45 L510.25,214.59 L510.5,214.79 L510.75,215.02 L511,215.29 L511.25,215.59 L511.5,215.9 L511.75,216.23 L512,216.56 L512.25,216.88 L512.5,217.19 L512.76,217.47 L513.01,217.72 L513.26,217.93 L513.51,218.1 L513.76,218.22 L514.01,218.28 L514.26,218.3 L514.51,218.26 L514.76,218.17 L515.01,218.02 L515.26,217.83 L515.51,217.6 L515.76,217.34 L516.02,217.04 L516.27,216.73 L516.52,216.4 L516.77,216.07 L517.02,215.75 L517.27,215.44 L517.52,215.16 L517.77,214.91 L518.02,214.69 L518.27,214.52 L518.52,214.39 L518.77,214.32 L519.02,214.3 L519.28,214.33 L519.53,214.42 L519.78,214.56 L520.03,214.75 L520.28,214.97 L520.53,215.24 L520.78,215.53 L521.03,215.84 L521.28,216.16 L521.53,216.49 L521.78,216.82 L522.03,217.13 L522.28,217.41 L522.54,217.67 L522.79,217.89 L523.04,218.07 L523.29,218.2 L523.54,218.27 L523.79,218.3 L524.04,218.27 L524.29,218.19 L524.54,218.06 L524.79,217.88 L525.04,217.65 L525.29,217.39 L525.54,217.1 L525.8,216.79 L526.05,216.47 L526.3,216.14 L526.55,215.82 L526.8,215.5 L527.05,215.22 L527.3,214.95" fill="none" stroke="#0d33d4" stroke-width="3" stroke-linecap="round" stroke-linejoin="round"/>
<path d="M462.1,226.75 L462.35,226.9 L462.6,227.09 L462.85,227.33 L463.1,227.6 L463.35,227.89 L463.6,228.21 L463.86,228.53 L464.11,228.86 L464.36,229.18 L464.61,229.49 L464.86,229.77 L465.11,230.02 L465.36,230.23 L465.61,230.4 L465.86,230.52 L466.11,230.58 L466.36,230.6 L466.61,230.56 L466.86,230.46 L467.12,230.32 L467.37,230.13 L467.62,229.9 L467.87,229.63 L468.12,229.34 L468.37,229.02 L468.62,228.7 L468.87,228.37 L469.12,228.05 L469.37,227.74 L469.62,227.46 L469.87,227.2 L470.12,226.99 L470.38,226.82 L470.63,226.69 L470.88,226.62 L471.13,226.6 L471.38,226.64 L471.63,226.72 L471.88,226.86 L472.13,227.05 L472.38,227.28 L472.63,227.54 L472.88,227.83 L473.13,228.14 L473.38,228.47 L473.64,228.8 L473.89,229.12 L474.14,229.43 L474.39,229.72 L474.64,229.97 L474.89,230.19 L475.14,230.37 L475.39,230.5 L475.64,230.58 L475.89,230.6 L476.14,230.57 L476.39,230.49 L476.64,230.35 L476.9,230.17 L477.15,229.95 L477.4,229.69 L477.65,229.4 L477.9,229.09 L478.15,228.76 L478.4,228.44 L478.65,228.11 L478.9,227.8 L479.15,227.51 L479.4,227.25 L479.65,227.03 L479.9,226.85 L480.16,226.71 L480.41,226.63 L480.66,226.6 L480.91,226.62 L481.16,226.7 L481.41,226.83 L481.66,227.01 L481.91,227.23 L482.16,227.48 L482.41,227.77 L482.66,228.08 L482.91,228.4 L483.16,228.73 L483.42,229.06 L483.67,229.37 L483.92,229.66 L484.17,229.92 L484.42,230.15 L484.67,230.34 L484.92,230.48 L485.17,230.56 L485.42,230.6 L485.67,230.58 L485.92,230.51 L486.17,230.38 L486.42,230.21 L486.68,230 L486.93,229.74 L487.18,229.46 L487.43,229.15 L487.68,228.83 L487.93,228.5 L488.18,228.18 L488.43,227.86 L488.68,227.57 L488.93,227.3 L489.18,227.07 L489.43,226.88 L489.68,226.74 L489.94,226.64 L490.19,226.6 L490.44,226.62 L490.69,226.68 L490.94,226.8 L491.19,226.97 L491.44,227.18 L491.69,227.43 L491.94,227.71 L492.19,228.01 L492.44,228.34 L492.69,228.66 L492.94,228.99 L493.2,229.31 L493.45,229.6 L493.7,229.87 L493.95,230.11 L494.2,230.3 L494.45,230.45 L494.7,230.55 L494.95,230.6 L495.2,230.59 L495.45,230.53 L495.7,230.41 L495.95,230.25 L496.2,230.04 L496.46,229.8 L496.71,229.52 L496.96,229.22 L497.21,228.9 L497.46,228.57 L497.71,228.24 L497.96,227.92 L498.21,227.63 L498.46,227.35 L498.71,227.11 L498.96,226.91 L499.21,226.76 L499.46,226.66 L499.72,226.61 L499.97,226.61 L500.22,226.66 L500.47,226.77 L500.72,226.93 L500.97,227.13 L501.22,227.38 L501.47,227.65 L501.72,227.95 L501.97,228.27 L502.22,228.6 L502.47,228.92 L502.72,229.24 L502.98,229.55 L503.23,229.82 L503.48,230.06 L503.73,230.27 L503.98,230.43 L504.23,230.53 L504.48,230.59 L504.73,230.59 L504.98,230.54 L505.23,230.44 L505.48,230.29 L505.73,230.09 L505.98,229.85 L506.24,229.58 L506.49,229.28 L506.74,228.96 L506.99,228.64 L507.24,228.31 L507.49,227.99 L507.74,227.68 L507.99,227.41 L508.24,227.16 L508.49,226.95 L508.74,226.79 L508.99,226.67 L509.24,226.61 L509.5,226.6 L509.75,226.65 L510,226.75 L510.25,226.89 L510.5,227.09 L510.75,227.32 L511,227.59 L511.25,227.89 L511.5,228.2 L511.75,228.53 L512,228.86 L512.25,229.18 L512.5,229.49 L512.76,229.77 L513.01,230.02 L513.26,230.23 L513.51,230.4 L513.76,230.52 L514.01,230.58 L514.26,230.6 L514.51,230.56 L514.76,230.47 L515.01,230.32 L515.26,230.13 L515.51,229.9 L515.76,229.64 L516.02,229.34 L516.27,229.03 L516.52,228.7 L516.77,228.37 L517.02,228.05 L517.27,227.74 L517.52,227.46 L517.77,227.21 L518.02,226.99 L518.27,226.82 L518.52,226.69 L518.77,226.62 L519.02,226.6 L519.28,226.63 L519.53,226.72 L519.78,226.86 L520.03,227.05 L520.28,227.27 L520.53,227.54 L520.78,227.83 L521.03,228.14 L521.28,228.46 L521.53,228.79 L521.78,229.12 L522.03,229.43 L522.28,229.71 L522.54,229.97 L522.79,230.19 L523.04,230.37 L523.29,230.5 L523.54,230.57 L523.79,230.6 L524.04,230.57 L524.29,230.49 L524.54,230.36 L524.79,230.18 L525.04,229.95 L525.29,229.69 L525.54,229.4 L525.8,229.09 L526.05,228.77 L526.3,228.44 L526.55,228.12 L526.8,227.8 L527.05,227.52 L527.3,227.25" fill="none" stroke="#0d33d4" stroke-width="3" stroke-linecap="round" stroke-linejoin="round"/>
<text x="162.1" y="255.5" font-size="11" text-anchor="middle">Curcumin</text>
<text x="242.7" y="256.4" font-size="11" text-anchor="middle">Zein nanoparticle</text>
<text x="324.9" y="255.5" font-size="11" text-anchor="middle">Piperine</text>
<text x="406.8" y="256.3" font-size="11" text-anchor="middle">Hyaluronic acid</text>
<text x="492.6" y="258.5" font-size="11" text-anchor="middle">Chitosan</text>
<circle cx="113" cy="370" r="33.7" fill="none" stroke="#00c000" stroke-width="13"/>
<circle cx="113.5" cy="370.3" r="27.2" fill="#fff"/>
<circle cx="107.84" cy="347.45" r="4.08" fill="#ffd000"/>
<circle cx="118.72" cy="347.34" r="4.08" fill="#ffd000"/>
<circle cx="97.23" cy="352.81" r="4.08" fill="#ffd000"/>
<circle cx="106.78" cy="356.86" r="4.08" fill="#ffd000"/>
<circle cx="118.72" cy="356.62" r="4.08" fill="#ffd000"/>
<circle cx="127.97" cy="352.7" r="4.08" fill="#ffd000"/>
<circle cx="91.52" cy="363.15" r="4.08" fill="#ffd000"/>
<circle cx="101.86" cy="366.03" r="4.08" fill="#ffd000"/>
<circle cx="113.55" cy="365.24" r="4.08" fill="#ffd000"/>
<circle cx="125.25" cy="364.97" r="4.08" fill="#ffd000"/>
<circle cx="135.18" cy="361.73" r="4.08" fill="#ffd000"/>
<circle cx="91.01" cy="374.27" r="4.08" fill="#ffd000"/>
<circle cx="102.16" cy="375.6" r="4.08" fill="#ffd000"/>
<circle cx="113.47" cy="375.5" r="4.08" fill="#ffd000"/>
<circle cx="125.52" cy="375.5" r="4.08" fill="#ffd000"/>
<circle cx="135.8" cy="373.43" r="4.08" fill="#ffd000"/>
<circle cx="94.27" cy="384.04" r="4.08" fill="#ffd000"/>
<circle cx="103.46" cy="384.53" r="4.08" fill="#ffd000"/>
<circle cx="114.1" cy="385.12" r="4.08" fill="#ffd000"/>
<circle cx="124.46" cy="385.94" r="4.08" fill="#ffd000"/>
<circle cx="133.08" cy="382.38" r="4.08" fill="#ffd000"/>
<circle cx="107.03" cy="392.47" r="4.08" fill="#ffd000"/>
<circle cx="118.72" cy="392.98" r="4.08" fill="#ffd000"/>
<circle cx="99.56" cy="328.63" r="4.2" fill="#ffd000"/>
<circle cx="121.45" cy="327.33" r="4.2" fill="#ffd000"/>
<circle cx="142.78" cy="338.29" r="4.2" fill="#ffd000"/>
<circle cx="154.18" cy="355.98" r="4.2" fill="#ffd000"/>
<circle cx="155.47" cy="379.42" r="4.2" fill="#ffd000"/>
<circle cx="145.88" cy="398.48" r="4.2" fill="#ffd000"/>
<circle cx="126.23" cy="411.44" r="4.2" fill="#ffd000"/>
<circle cx="103.21" cy="412.39" r="4.2" fill="#ffd000"/>
<circle cx="84.92" cy="403.23" r="4.2" fill="#ffd000"/>
<circle cx="72.02" cy="384.59" r="4.2" fill="#ffd000"/>
<circle cx="70.48" cy="360.81" r="4.2" fill="#ffd000"/>
<circle cx="80.88" cy="340.67" r="4.2" fill="#ffd000"/>
<circle cx="215" cy="372.3" r="36.9" fill="none" stroke="#00c000" stroke-width="13.8"/>
<circle cx="215.5" cy="373" r="30" fill="#fff"/>
<circle cx="209.26" cy="347.8" r="4.5" fill="#ffd000"/>
<circle cx="221.26" cy="347.68" r="4.5" fill="#ffd000"/>
<circle cx="197.56" cy="353.71" r="4.5" fill="#ffd000"/>
<circle cx="208.09" cy="358.18" r="4.5" fill="#ffd000"/>
<circle cx="221.26" cy="357.91" r="4.5" fill="#ffd000"/>
<circle cx="231.46" cy="353.59" r="4.5" fill="#ffd000"/>
<circle cx="191.26" cy="365.11" r="4.5" fill="#ffd000"/>
<circle cx="202.66" cy="368.29" r="4.5" fill="#ffd000"/>
<circle cx="215.56" cy="367.42" r="4.5" fill="#ffd000"/>
<circle cx="228.46" cy="367.12" r="4.5" fill="#ffd000"/>
<circle cx="239.41" cy="363.55" r="4.5" fill="#ffd000"/>
<circle cx="190.69" cy="377.38" r="4.5" fill="#ffd000"/>
<circle cx="202.99" cy="378.85" r="4.5" fill="#ffd000"/>
<circle cx="215.47" cy="378.73" r="4.5" fill="#ffd000"/>
<circle cx="228.76" cy="378.73" r="4.5" fill="#ffd000"/>
<circle cx="240.1" cy="376.45" r="4.5" fill="#ffd000"/>
<circle cx="194.29" cy="388.15" r="4.5" fill="#ffd000"/>
<circle cx="204.43" cy="388.69" r="4.5" fill="#ffd000"/>
<circle cx="216.16" cy="389.35" r="4.5" fill="#ffd000"/>
<circle cx="227.59" cy="390.25" r="4.5" fill="#ffd000"/>
<circle cx="237.1" cy="386.32" r="4.5" fill="#ffd000"/>
<circle cx="208.36" cy="397.45" r="4.5" fill="#ffd000"/>
<circle cx="221.26" cy="398.02" r="4.5" fill="#ffd000"/>
<circle cx="325.2" cy="364.2" r="36.9" fill="none" stroke="#00c000" stroke-width="14.2"/>
<circle cx="325.2" cy="364.4" r="29.8" fill="#fff"/>
<circle cx="319" cy="339.37" r="4.47" fill="#ffd000"/>
<circle cx="330.92" cy="339.25" r="4.47" fill="#ffd000"/>
<circle cx="307.38" cy="345.24" r="4.47" fill="#ffd000"/>
<circle cx="317.84" cy="349.68" r="4.47" fill="#ffd000"/>
<circle cx="330.92" cy="349.41" r="4.47" fill="#ffd000"/>
<circle cx="341.05" cy="345.12" r="4.47" fill="#ffd000"/>
<circle cx="301.12" cy="356.56" r="4.47" fill="#ffd000"/>
<circle cx="312.45" cy="359.72" r="4.47" fill="#ffd000"/>
<circle cx="325.26" cy="358.86" r="4.47" fill="#ffd000"/>
<circle cx="338.07" cy="358.56" r="4.47" fill="#ffd000"/>
<circle cx="348.95" cy="355.01" r="4.47" fill="#ffd000"/>
<circle cx="300.56" cy="368.75" r="4.47" fill="#ffd000"/>
<circle cx="312.77" cy="370.21" r="4.47" fill="#ffd000"/>
<circle cx="325.17" cy="370.09" r="4.47" fill="#ffd000"/>
<circle cx="338.37" cy="370.09" r="4.47" fill="#ffd000"/>
<circle cx="349.64" cy="367.83" r="4.47" fill="#ffd000"/>
<circle cx="304.13" cy="379.45" r="4.47" fill="#ffd000"/>
<circle cx="314.2" cy="379.99" r="4.47" fill="#ffd000"/>
<circle cx="325.86" cy="380.64" r="4.47" fill="#ffd000"/>
<circle cx="337.21" cy="381.53" r="4.47" fill="#ffd000"/>
<circle cx="346.66" cy="377.63" r="4.47" fill="#ffd000"/>
<circle cx="318.11" cy="388.69" r="4.47" fill="#ffd000"/>
<circle cx="330.92" cy="389.25" r="4.47" fill="#ffd000"/>
<circle cx="330.44" cy="316.83" r="5.5" fill="url(#pg)"/>
<circle cx="340.97" cy="319.25" r="5.5" fill="url(#pg)"/>
<circle cx="350.69" cy="323.92" r="5.5" fill="url(#pg)"/>
<circle cx="359.11" cy="330.6" r="5.5" fill="url(#pg)"/>
<circle cx="365.82" cy="338.97" r="5.5" fill="url(#pg)"/>
<circle cx="370.46" cy="348.59" r="5.5" fill="url(#pg)"/>
<circle cx="372.82" cy="358.99" r="5.5" fill="url(#pg)"/>
<circle cx="372.77" cy="369.65" r="5.5" fill="url(#pg)"/>
<circle cx="370.31" cy="380.03" r="5.5" fill="url(#pg)"/>
<circle cx="365.57" cy="389.62" r="5.5" fill="url(#pg)"/>
<circle cx="358.79" cy="397.92" r="5.5" fill="url(#pg)"/>
<circle cx="350.3" cy="404.52" r="5.5" fill="url(#pg)"/>
<circle cx="340.54" cy="409.1" r="5.5" fill="url(#pg)"/>
<circle cx="329.98" cy="411.43" r="5.5" fill="url(#pg)"/>
<circle cx="319.16" cy="411.37" r="5.5" fill="url(#pg)"/>
<circle cx="308.63" cy="408.95" r="5.5" fill="url(#pg)"/>
<circle cx="298.91" cy="404.28" r="5.5" fill="url(#pg)"/>
<circle cx="290.49" cy="397.6" r="5.5" fill="url(#pg)"/>
<circle cx="283.78" cy="389.23" r="5.5" fill="url(#pg)"/>
<circle cx="279.14" cy="379.61" r="5.5" fill="url(#pg)"/>
<circle cx="276.78" cy="369.21" r="5.5" fill="url(#pg)"/>
<circle cx="276.83" cy="358.55" r="5.5" fill="url(#pg)"/>
<circle cx="279.29" cy="348.17" r="5.5" fill="url(#pg)"/>
<circle cx="284.03" cy="338.58" r="5.5" fill="url(#pg)"/>
<circle cx="290.81" cy="330.28" r="5.5" fill="url(#pg)"/>
<circle cx="299.3" cy="323.68" r="5.5" fill="url(#pg)"/>
<circle cx="309.06" cy="319.1" r="5.5" fill="url(#pg)"/>
<circle cx="319.62" cy="316.77" r="5.5" fill="url(#pg)"/>
<path d="M500.3,365.51 L498.68,375.82 L496.08,381.73 L486.38,394.3 L480.18,401.49 L473.68,403.85 L457.07,409.91 L451.24,411.75 L439.72,410.13 L428.05,407.32 L417.03,401.66 L411.19,396.63 L401.6,384.77 L396.71,373.63 L394.9,365.1 L395.6,352.05 L396.37,342.18 L402.47,331.12 L406.41,326.21 L414.67,317.03 L424.5,310.07 L432.59,307.32 L450.15,305.45 L458.78,306.45 L465.55,308.78 L478.99,314.83 L486.24,321.58 L491.79,329.15 L496.99,338.55 L500.35,351.22Z" fill="none" stroke="#c4cdf2" stroke-opacity="1.0" stroke-width="9.2"/>
<path d="M503.71,365.99 L501.54,376.82 L498.91,383.13 L488.85,396.64 L482.45,404.57 L475.16,406.49 L457.6,412.99 L451.44,415.04 L439.13,413.89 L426.72,410.63 L414.85,404.74 L408.79,399.15 L398.92,386.32 L393.41,374.63 L391.23,365.57 L392.35,351.66 L392.73,341.03 L399.55,329.36 L403.49,323.93 L412.62,314.47 L422.85,306.64 L431.52,303.75 L450.3,301.83 L459.55,302.68 L466.71,305.46 L480.77,312.31 L488.94,318.97 L494.83,327.09 L500.44,337.14 L503.45,350.8Z" fill="none" stroke="#1c3ed2" stroke-width="2.3" stroke-dasharray="2 0.25"/>
<path d="M500.25,365.5 L498.77,375.85 L496.24,381.81 L486.12,394.06 L479.92,401.13 L473.73,403.94 L457.1,410.13 L451.25,411.92 L439.72,410.18 L428.05,407.33 L416.98,401.72 L411.09,396.73 L401.97,384.56 L396.8,373.6 L394.55,365.14 L395.9,352.09 L396.22,342.13 L402.26,330.99 L406.73,326.46 L414.68,317.04 L424.44,309.93 L432.62,307.44 L450.16,305.42 L458.86,306.04 L465.68,308.4 L478.83,315.06 L486.02,321.8 L491.48,329.35 L496.68,338.67 L500.55,351.19Z" fill="none" stroke="#1c3ed2" stroke-width="2.3" stroke-dasharray="2 0.25"/>
<path d="M496.63,365 L495.37,374.66 L492.87,380.15 L483.72,391.78 L478.04,398.58 L472.11,401.02 L456.54,406.88 L451.06,408.66 L440.25,406.82 L429.38,404.02 L419.14,398.68 L413.27,394.44 L404.27,383.23 L399.86,372.68 L397.99,364.7 L399.39,352.51 L399.46,343.16 L405.1,332.71 L409.49,328.61 L416.75,319.64 L426.07,313.31 L433.56,310.57 L450,309.26 L458.11,309.69 L464.32,312.3 L477,317.66 L483.96,323.8 L489.16,330.92 L493.86,339.82 L496.51,351.74Z" fill="none" stroke="#1c3ed2" stroke-width="2.3" stroke-dasharray="2 0.25"/>
<circle cx="449.4" cy="358" r="33.45" fill="none" stroke="#00c000" stroke-width="13.5"/>
<circle cx="449.6" cy="358.2" r="26.7" fill="#fff"/>
<circle cx="444.05" cy="335.77" r="4" fill="#ffd000"/>
<circle cx="454.73" cy="335.67" r="4" fill="#ffd000"/>
<circle cx="433.63" cy="341.03" r="4" fill="#ffd000"/>
<circle cx="443.01" cy="345.01" r="4" fill="#ffd000"/>
<circle cx="454.73" cy="344.77" r="4" fill="#ffd000"/>
<circle cx="463.8" cy="340.93" r="4" fill="#ffd000"/>
<circle cx="428.03" cy="351.18" r="4" fill="#ffd000"/>
<circle cx="438.17" cy="354.01" r="4" fill="#ffd000"/>
<circle cx="449.65" cy="353.23" r="4" fill="#ffd000"/>
<circle cx="461.13" cy="352.97" r="4" fill="#ffd000"/>
<circle cx="470.88" cy="349.79" r="4" fill="#ffd000"/>
<circle cx="427.52" cy="362.1" r="4" fill="#ffd000"/>
<circle cx="438.47" cy="363.41" r="4" fill="#ffd000"/>
<circle cx="449.57" cy="363.3" r="4" fill="#ffd000"/>
<circle cx="461.4" cy="363.3" r="4" fill="#ffd000"/>
<circle cx="471.49" cy="361.27" r="4" fill="#ffd000"/>
<circle cx="430.72" cy="371.68" r="4" fill="#ffd000"/>
<circle cx="439.75" cy="372.16" r="4" fill="#ffd000"/>
<circle cx="450.19" cy="372.75" r="4" fill="#ffd000"/>
<circle cx="460.36" cy="373.55" r="4" fill="#ffd000"/>
<circle cx="468.82" cy="370.05" r="4" fill="#ffd000"/>
<circle cx="443.25" cy="379.96" r="4" fill="#ffd000"/>
<circle cx="454.73" cy="380.47" r="4" fill="#ffd000"/>
<circle cx="454.4" cy="314.39" r="5.1" fill="url(#pg)"/>
<circle cx="464.05" cy="316.62" r="5.1" fill="url(#pg)"/>
<circle cx="472.96" cy="320.95" r="5.1" fill="url(#pg)"/>
<circle cx="480.69" cy="327.17" r="5.1" fill="url(#pg)"/>
<circle cx="486.85" cy="334.97" r="5.1" fill="url(#pg)"/>
<circle cx="491.14" cy="343.95" r="5.1" fill="url(#pg)"/>
<circle cx="493.33" cy="353.67" r="5.1" fill="url(#pg)"/>
<circle cx="493.32" cy="363.64" r="5.1" fill="url(#pg)"/>
<circle cx="491.1" cy="373.35" r="5.1" fill="url(#pg)"/>
<circle cx="486.8" cy="382.32" r="5.1" fill="url(#pg)"/>
<circle cx="480.62" cy="390.11" r="5.1" fill="url(#pg)"/>
<circle cx="472.87" cy="396.31" r="5.1" fill="url(#pg)"/>
<circle cx="463.95" cy="400.62" r="5.1" fill="url(#pg)"/>
<circle cx="454.29" cy="402.83" r="5.1" fill="url(#pg)"/>
<circle cx="444.4" cy="402.81" r="5.1" fill="url(#pg)"/>
<circle cx="434.75" cy="400.58" r="5.1" fill="url(#pg)"/>
<circle cx="425.84" cy="396.25" r="5.1" fill="url(#pg)"/>
<circle cx="418.11" cy="390.03" r="5.1" fill="url(#pg)"/>
<circle cx="411.95" cy="382.23" r="5.1" fill="url(#pg)"/>
<circle cx="407.66" cy="373.25" r="5.1" fill="url(#pg)"/>
<circle cx="405.47" cy="363.53" r="5.1" fill="url(#pg)"/>
<circle cx="405.48" cy="353.56" r="5.1" fill="url(#pg)"/>
<circle cx="407.7" cy="343.85" r="5.1" fill="url(#pg)"/>
<circle cx="412" cy="334.88" r="5.1" fill="url(#pg)"/>
<circle cx="418.18" cy="327.09" r="5.1" fill="url(#pg)"/>
<circle cx="425.93" cy="320.89" r="5.1" fill="url(#pg)"/>
<circle cx="434.85" cy="316.58" r="5.1" fill="url(#pg)"/>
<circle cx="444.51" cy="314.37" r="5.1" fill="url(#pg)"/>
<path d="M623.92,365.68 L620.09,375.44 L611.64,391.96 L608.35,396.04 L599.44,402.45 L585.16,408.02 L576.61,411.28 L561,410.85 L554.96,408.6 L539.91,401.63 L534.13,398.6 L525.76,388.24 L517.61,377.06 L515.76,367.75 L514.81,354.8 L516.38,345.33 L517.71,339.15 L525.98,323.56 L533.19,317.8 L540.48,312.24 L549.65,307.28 L565.71,304.39 L575.06,303.99 L588.74,307.36 L597.72,311.98 L608.06,319.46 L613.3,325.97 L618.57,336.94 L623.49,346.51 L623.29,355.23Z" fill="none" stroke="#c4cdf2" stroke-opacity="1.0" stroke-width="9.5"/>
<path d="M627.51,366.22 L623.24,376.57 L614.12,394 L611.01,398.7 L601.57,405.66 L586.33,411.77 L577.1,414.82 L560.48,414.24 L554.06,411.86 L537.98,404.59 L531.74,401.44 L522.5,390.58 L514.03,378.44 L511.95,368.5 L510.91,354.6 L512.62,344.45 L514.67,338.05 L523.28,321.41 L530.51,314.8 L538.49,309.07 L548.22,303.53 L565.5,301.18 L575.43,300.61 L589.88,304.38 L599.59,308.96 L610.63,316.91 L616.09,323.94 L621.93,335.52 L626.92,345.81 L626.69,355.09Z" fill="none" stroke="#1c3ed2" stroke-width="2.3" stroke-dasharray="2 0.25"/>
<path d="M623.83,365.66 L620.41,375.55 L611.32,391.69 L608.15,395.85 L599.66,402.79 L585.06,407.67 L576.56,410.88 L561,410.86 L554.88,408.9 L539.83,401.76 L533.98,398.78 L525.86,388.16 L517.68,377.03 L515.45,367.81 L515.14,354.81 L516.38,345.33 L517.33,339.01 L526.17,323.71 L533.45,318.09 L540.46,312.22 L549.77,307.58 L565.7,304.15 L575.08,303.84 L588.87,307.01 L597.76,311.93 L607.78,319.74 L613.09,326.12 L618.62,336.92 L623.55,346.5 L623.61,355.22Z" fill="none" stroke="#1c3ed2" stroke-width="2.3" stroke-dasharray="2 0.25"/>
<path d="M620.25,365.12 L616.78,374.25 L609.15,389.91 L605.82,393.52 L597.42,399.4 L584.03,404.36 L576.15,407.83 L561.55,407.23 L555.92,405.1 L541.76,398.8 L536.57,395.7 L528.94,385.95 L521.22,375.67 L519.18,367.09 L518.77,355 L520.31,346.25 L521.38,340.48 L528.95,325.93 L535.3,320.17 L542.3,315.17 L550.99,310.77 L565.95,308.14 L574.7,307.35 L587.37,310.92 L595.88,314.96 L605.37,322.14 L610.51,327.99 L615.27,338.34 L620.05,347.22 L619.8,355.38Z" fill="none" stroke="#1c3ed2" stroke-width="2.3" stroke-dasharray="2 0.25"/>
<circle cx="570.2" cy="357.5" r="33.7" fill="none" stroke="#00c000" stroke-width="13.2"/>
<circle cx="570.5" cy="358.2" r="27.1" fill="#fff"/>
<circle cx="561.07" cy="313.6" r="5.4" fill="url(#pg)"/>
<circle cx="577.86" cy="313.39" r="4.5" fill="#ffd000"/>
<circle cx="594.14" cy="319.76" r="5.4" fill="url(#pg)"/>
<circle cx="606.61" cy="331.68" r="4.5" fill="#ffd000"/>
<circle cx="612.41" cy="343.06" r="5.4" fill="url(#pg)"/>
<circle cx="614.78" cy="358.91" r="4.5" fill="#ffd000"/>
<circle cx="612.18" cy="372.6" r="5.4" fill="url(#pg)"/>
<circle cx="605.3" cy="385.08" r="4.5" fill="#ffd000"/>
<circle cx="593.21" cy="395.82" r="5.4" fill="url(#pg)"/>
<circle cx="579.39" cy="401.3" r="4.5" fill="#ffd000"/>
<circle cx="564.85" cy="402" r="5.4" fill="url(#pg)"/>
<circle cx="550.93" cy="398.04" r="4.5" fill="#ffd000"/>
<circle cx="539.62" cy="390.42" r="5.4" fill="url(#pg)"/>
<circle cx="530.26" cy="378.19" r="4.5" fill="#ffd000"/>
<circle cx="525.51" cy="362.73" r="5.4" fill="url(#pg)"/>
<circle cx="526.12" cy="348.49" r="4.5" fill="#ffd000"/>
<circle cx="531.92" cy="333.89" r="5.4" fill="url(#pg)"/>
<circle cx="544.69" cy="320.53" r="4.5" fill="#ffd000"/>
<circle cx="565.6" cy="335.1" r="4.3" fill="#ffd000"/>
<circle cx="576.5" cy="334.8" r="4.3" fill="#ffd000"/>
<circle cx="554.7" cy="340.5" r="4.3" fill="#ffd000"/>
<circle cx="585.8" cy="340.5" r="4.3" fill="#ffd000"/>
<circle cx="548.2" cy="350.9" r="4.3" fill="#ffd000"/>
<circle cx="592.9" cy="349.3" r="4.3" fill="#ffd000"/>
<circle cx="547.6" cy="361.8" r="4.3" fill="#ffd000"/>
<circle cx="594" cy="360.7" r="4.3" fill="#ffd000"/>
<circle cx="550.9" cy="372.2" r="4.3" fill="#ffd000"/>
<circle cx="590.7" cy="371.1" r="4.3" fill="#ffd000"/>
<circle cx="582" cy="374.4" r="4.3" fill="#ffd000"/>
<circle cx="564.5" cy="380.4" r="4.3" fill="#ffd000"/>
<circle cx="576.5" cy="381.5" r="4.3" fill="#ffd000"/>
<circle cx="571.6" cy="358.5" r="4.3" fill="#ffd000"/>
<circle cx="567.8" cy="347.1" r="5.3" fill="url(#pg2)"/>
<circle cx="582" cy="350.4" r="5.3" fill="url(#pg2)"/>
<circle cx="559.6" cy="357.5" r="5.3" fill="url(#pg2)"/>
<circle cx="583.1" cy="364" r="5.3" fill="url(#pg2)"/>
<circle cx="568.9" cy="370" r="5.3" fill="url(#pg2)"/>
<text x="121.5" y="451.1" font-size="14" text-anchor="middle">(A)</text>
<text x="216.7" y="450.7" font-size="14" text-anchor="middle">(B)</text>
<text x="328.4" y="451.5" font-size="14" text-anchor="middle">(C)</text>
<text x="447.6" y="450.7" font-size="14" text-anchor="middle">(D)</text>
<text x="573.2" y="451.1" font-size="14" text-anchor="middle">(E)</text>
<circle cx="196.7" cy="503.8" r="13.2" fill="url(#yg)"/>
<circle cx="281.6" cy="501" r="20.8" fill="none" stroke="#00c000" stroke-width="7.8"/>
<circle cx="380.9" cy="504.8" r="13.4" fill="url(#pg)"/>
<path d="M434.3,497.4 L434.55,497.46 L434.8,497.59 L435.05,497.77 L435.3,498.02 L435.55,498.32 L435.8,498.66 L436.05,499.04 L436.3,499.45 L436.55,499.87 L436.8,500.3 L437.05,500.71 L437.3,501.12 L437.55,501.49 L437.8,501.83 L438.05,502.12 L438.3,502.36 L438.55,502.54 L438.8,502.65 L439.05,502.7 L439.3,502.68 L439.55,502.59 L439.8,502.43 L440.05,502.22 L440.3,501.94 L440.55,501.62 L440.8,501.26 L441.05,500.87 L441.3,500.45 L441.55,500.03 L441.8,499.6 L442.06,499.19 L442.31,498.8 L442.56,498.44 L442.81,498.13 L443.06,497.86 L443.31,497.65 L443.56,497.5 L443.81,497.42 L444.06,497.4 L444.31,497.46 L444.56,497.58 L444.81,497.76 L445.06,498.01 L445.31,498.3 L445.56,498.64 L445.81,499.02 L446.06,499.43 L446.31,499.85 L446.56,500.27 L446.81,500.69 L447.06,501.1 L447.31,501.47 L447.56,501.81 L447.81,502.11 L448.06,502.35 L448.31,502.53 L448.56,502.65 L448.81,502.7 L449.06,502.68 L449.31,502.59 L449.56,502.44 L449.81,502.23 L450.06,501.96 L450.31,501.64 L450.56,501.28 L450.81,500.89 L451.06,500.48 L451.31,500.05 L451.56,499.63 L451.81,499.21 L452.06,498.82 L452.31,498.46 L452.56,498.14 L452.81,497.87 L453.06,497.66 L453.31,497.51 L453.56,497.42 L453.81,497.4 L454.06,497.45 L454.31,497.57 L454.56,497.75 L454.81,497.99 L455.06,498.28 L455.31,498.62 L455.56,499 L455.81,499.4 L456.06,499.82 L456.31,500.25 L456.56,500.67 L456.81,501.07 L457.07,501.45 L457.32,501.79 L457.57,502.09 L457.82,502.34 L458.07,502.52 L458.32,502.64 L458.57,502.7 L458.82,502.68 L459.07,502.6 L459.32,502.45 L459.57,502.24 L459.82,501.98 L460.07,501.66 L460.32,501.3 L460.57,500.91 L460.82,500.5 L461.07,500.08 L461.32,499.65 L461.57,499.24 L461.82,498.84 L462.07,498.48 L462.32,498.16 L462.57,497.89 L462.82,497.67 L463.07,497.51 L463.32,497.42 L463.57,497.4 L463.82,497.45 L464.07,497.56 L464.32,497.74 L464.57,497.98 L464.82,498.27 L465.07,498.6 L465.32,498.98 L465.57,499.38 L465.82,499.8 L466.07,500.23 L466.32,500.65 L466.57,501.05 L466.82,501.43 L467.07,501.78 L467.32,502.08 L467.57,502.32 L467.82,502.51 L468.07,502.64 L468.32,502.7 L468.57,502.69 L468.82,502.61 L469.07,502.46 L469.32,502.26 L469.57,501.99 L469.82,501.68 L470.07,501.32 L470.32,500.93 L470.57,500.52 L470.82,500.1 L471.07,499.67 L471.32,499.26 L471.57,498.86 L471.82,498.5 L472.07,498.17 L472.33,497.9 L472.58,497.68 L472.83,497.52 L473.08,497.43 L473.33,497.4 L473.58,497.44 L473.83,497.55 L474.08,497.73 L474.33,497.96 L474.58,498.25 L474.83,498.59 L475.08,498.96 L475.33,499.36 L475.58,499.78 L475.83,500.2 L476.08,500.62 L476.33,501.03 L476.58,501.41 L476.83,501.76 L477.08,502.06 L477.33,502.31 L477.58,502.5 L477.83,502.63 L478.08,502.69 L478.33,502.69 L478.58,502.61 L478.83,502.47 L479.08,502.27 L479.33,502.01 L479.58,501.7 L479.83,501.34 L480.08,500.96 L480.33,500.54 L480.58,500.12 L480.83,499.7 L481.08,499.28 L481.33,498.88 L481.58,498.52 L481.83,498.19 L482.08,497.91 L482.33,497.69 L482.58,497.53 L482.83,497.43 L483.08,497.4 L483.33,497.44 L483.58,497.55 L483.83,497.72 L484.08,497.95 L484.33,498.23 L484.58,498.57 L484.83,498.94 L485.08,499.34 L485.33,499.75 L485.58,500.18 L485.83,500.6 L486.08,501.01 L486.33,501.39 L486.58,501.74 L486.83,502.05 L487.08,502.3 L487.33,502.5 L487.59,502.63 L487.84,502.69 L488.09,502.69 L488.34,502.62 L488.59,502.48 L488.84,502.28 L489.09,502.02 L489.34,501.71 L489.59,501.36 L489.84,500.98 L490.09,500.57 L490.34,500.14 L490.59,499.72 L490.84,499.3 L491.09,498.9 L491.34,498.54 L491.59,498.21 L491.84,497.93 L492.09,497.7 L492.34,497.53 L492.59,497.43 L492.84,497.4 L493.09,497.44 L493.34,497.54 L493.59,497.71 L493.84,497.93 L494.09,498.22 L494.34,498.55 L494.59,498.92 L494.84,499.31 L495.09,499.73 L495.34,500.16 L495.59,500.58 L495.84,500.99 L496.09,501.37 L496.34,501.72 L496.59,502.03 L496.84,502.29 L497.09,502.49 L497.34,502.62 L497.59,502.69 L497.84,502.69 L498.09,502.62 L498.34,502.49 L498.59,502.29 L498.84,502.04 L499.09,501.73 L499.34,501.38 L499.59,501 L499.84,500.59 L500.09,500.17 L500.34,499.74 L500.59,499.32 L500.84,498.93 L501.09,498.56 L501.34,498.22 L501.59,497.94 L501.84,497.71 L502.09,497.54 L502.34,497.44 L502.6,497.4 L502.85,497.43 L503.1,497.53 L503.35,497.69 L503.6,497.92 L503.85,498.2 L504.1,498.53 L504.35,498.89 L504.6,499.29 L504.85,499.71 L505.1,500.13 L505.35,500.56 L505.6,500.97 L505.85,501.35 L506.1,501.71 L506.35,502.02 L506.6,502.28 L506.85,502.48 L507.1,502.62 L507.35,502.69 L507.6,502.69 L507.85,502.63 L508.1,502.5 L508.35,502.31 L508.6,502.05 L508.85,501.75 L509.1,501.4 L509.35,501.02 L509.6,500.61 L509.85,500.19 L510.1,499.77" fill="none" stroke="#1f5fdd" stroke-width="2.2" stroke-linecap="round" stroke-linejoin="round"/>
<path d="M434.3,512.4 L434.55,512.46 L434.8,512.59 L435.05,512.77 L435.3,513.02 L435.55,513.32 L435.8,513.66 L436.05,514.04 L436.3,514.45 L436.55,514.87 L436.8,515.3 L437.05,515.71 L437.3,516.12 L437.55,516.49 L437.8,516.83 L438.05,517.12 L438.3,517.36 L438.55,517.54 L438.8,517.65 L439.05,517.7 L439.3,517.68 L439.55,517.59 L439.8,517.43 L440.05,517.22 L440.3,516.94 L440.55,516.62 L440.8,516.26 L441.05,515.87 L441.3,515.45 L441.55,515.03 L441.8,514.6 L442.06,514.19 L442.31,513.8 L442.56,513.44 L442.81,513.13 L443.06,512.86 L443.31,512.65 L443.56,512.5 L443.81,512.42 L444.06,512.4 L444.31,512.46 L444.56,512.58 L444.81,512.76 L445.06,513.01 L445.31,513.3 L445.56,513.64 L445.81,514.02 L446.06,514.43 L446.31,514.85 L446.56,515.27 L446.81,515.69 L447.06,516.1 L447.31,516.47 L447.56,516.81 L447.81,517.11 L448.06,517.35 L448.31,517.53 L448.56,517.65 L448.81,517.7 L449.06,517.68 L449.31,517.59 L449.56,517.44 L449.81,517.23 L450.06,516.96 L450.31,516.64 L450.56,516.28 L450.81,515.89 L451.06,515.48 L451.31,515.05 L451.56,514.63 L451.81,514.21 L452.06,513.82 L452.31,513.46 L452.56,513.14 L452.81,512.87 L453.06,512.66 L453.31,512.51 L453.56,512.42 L453.81,512.4 L454.06,512.45 L454.31,512.57 L454.56,512.75 L454.81,512.99 L455.06,513.28 L455.31,513.62 L455.56,514 L455.81,514.4 L456.06,514.82 L456.31,515.25 L456.56,515.67 L456.81,516.07 L457.07,516.45 L457.32,516.79 L457.57,517.09 L457.82,517.34 L458.07,517.52 L458.32,517.64 L458.57,517.7 L458.82,517.68 L459.07,517.6 L459.32,517.45 L459.57,517.24 L459.82,516.98 L460.07,516.66 L460.32,516.3 L460.57,515.91 L460.82,515.5 L461.07,515.08 L461.32,514.65 L461.57,514.24 L461.82,513.84 L462.07,513.48 L462.32,513.16 L462.57,512.89 L462.82,512.67 L463.07,512.51 L463.32,512.42 L463.57,512.4 L463.82,512.45 L464.07,512.56 L464.32,512.74 L464.57,512.98 L464.82,513.27 L465.07,513.6 L465.32,513.98 L465.57,514.38 L465.82,514.8 L466.07,515.23 L466.32,515.65 L466.57,516.05 L466.82,516.43 L467.07,516.78 L467.32,517.08 L467.57,517.32 L467.82,517.51 L468.07,517.64 L468.32,517.7 L468.57,517.69 L468.82,517.61 L469.07,517.46 L469.32,517.26 L469.57,516.99 L469.82,516.68 L470.07,516.32 L470.32,515.93 L470.57,515.52 L470.82,515.1 L471.07,514.67 L471.32,514.26 L471.57,513.86 L471.82,513.5 L472.07,513.17 L472.33,512.9 L472.58,512.68 L472.83,512.52 L473.08,512.43 L473.33,512.4 L473.58,512.44 L473.83,512.55 L474.08,512.73 L474.33,512.96 L474.58,513.25 L474.83,513.59 L475.08,513.96 L475.33,514.36 L475.58,514.78 L475.83,515.2 L476.08,515.62 L476.33,516.03 L476.58,516.41 L476.83,516.76 L477.08,517.06 L477.33,517.31 L477.58,517.5 L477.83,517.63 L478.08,517.69 L478.33,517.69 L478.58,517.61 L478.83,517.47 L479.08,517.27 L479.33,517.01 L479.58,516.7 L479.83,516.34 L480.08,515.96 L480.33,515.54 L480.58,515.12 L480.83,514.7 L481.08,514.28 L481.33,513.88 L481.58,513.52 L481.83,513.19 L482.08,512.91 L482.33,512.69 L482.58,512.53 L482.83,512.43 L483.08,512.4 L483.33,512.44 L483.58,512.55 L483.83,512.72 L484.08,512.95 L484.33,513.23 L484.58,513.57 L484.83,513.94 L485.08,514.34 L485.33,514.75 L485.58,515.18 L485.83,515.6 L486.08,516.01 L486.33,516.39 L486.58,516.74 L486.83,517.05 L487.08,517.3 L487.33,517.5 L487.59,517.63 L487.84,517.69 L488.09,517.69 L488.34,517.62 L488.59,517.48 L488.84,517.28 L489.09,517.02 L489.34,516.71 L489.59,516.36 L489.84,515.98 L490.09,515.57 L490.34,515.14 L490.59,514.72 L490.84,514.3 L491.09,513.9 L491.34,513.54 L491.59,513.21 L491.84,512.93 L492.09,512.7 L492.34,512.53 L492.59,512.43 L492.84,512.4 L493.09,512.44 L493.34,512.54 L493.59,512.71 L493.84,512.93 L494.09,513.22 L494.34,513.55 L494.59,513.92 L494.84,514.31 L495.09,514.73 L495.34,515.16 L495.59,515.58 L495.84,515.99 L496.09,516.37 L496.34,516.72 L496.59,517.03 L496.84,517.29 L497.09,517.49 L497.34,517.62 L497.59,517.69 L497.84,517.69 L498.09,517.62 L498.34,517.49 L498.59,517.29 L498.84,517.04 L499.09,516.73 L499.34,516.38 L499.59,516 L499.84,515.59 L500.09,515.17 L500.34,514.74 L500.59,514.32 L500.84,513.93 L501.09,513.56 L501.34,513.22 L501.59,512.94 L501.84,512.71 L502.09,512.54 L502.34,512.44 L502.6,512.4 L502.85,512.43 L503.1,512.53 L503.35,512.69 L503.6,512.92 L503.85,513.2 L504.1,513.53 L504.35,513.89 L504.6,514.29 L504.85,514.71 L505.1,515.13 L505.35,515.56 L505.6,515.97 L505.85,516.35 L506.1,516.71 L506.35,517.02 L506.6,517.28 L506.85,517.48 L507.1,517.62 L507.35,517.69 L507.6,517.69 L507.85,517.63 L508.1,517.5 L508.35,517.31 L508.6,517.05 L508.85,516.75 L509.1,516.4 L509.35,516.02 L509.6,515.61 L509.85,515.19 L510.1,514.77" fill="none" stroke="#1f5fdd" stroke-width="2.2" stroke-linecap="round" stroke-linejoin="round"/>
<text x="196.3" y="544.4" font-size="12.8" text-anchor="middle">Cur</text>
<text x="283.7" y="543.9" font-size="12.8" text-anchor="middle">Zein nanoparticle</text>
<text x="382.5" y="544.2" font-size="12.8" text-anchor="middle">Que</text>
<text x="470.3" y="544.7" font-size="12.8" text-anchor="middle">HA</text>
</svg>
</body></html>
